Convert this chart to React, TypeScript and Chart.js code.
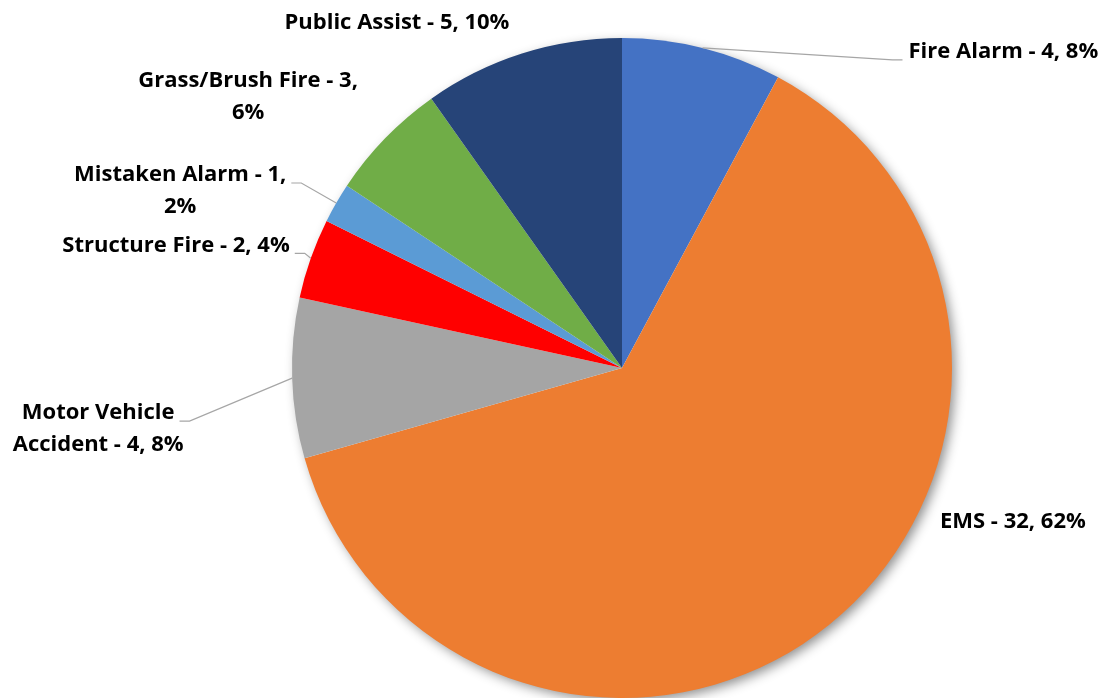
import React, { useEffect, useRef } from "react";
import { Chart, registerables } from "chart.js";

Chart.register(...registerables);

const categories = [
  "Fire Alarm",
  "EMS",
  "Motor Vehicle Accident",
  "Structure Fire",
  "Mistaken Alarm",
  "Grass/Brush Fire",
  "Public Assist",
];
const counts = [4, 32, 4, 2, 1, 3, 5];
const percentLabels = [8, 62, 8, 4, 2, 6, 10];
const colors = ["#4472C4", "#ED7D31", "#A5A5A5", "#FF0000", "#5B9BD5", "#70AD47", "#264478"];

// label layout: offset of the label anchor from the slice's outer mid point
const labelLayout = [
  { dx: 206, dy: 4, align: "left", breakAfter: 0, leader: "right" },
  { dx: 184, dy: -103, align: "center", breakAfter: 0, leader: "" },
  { dx: -194, dy: 35, align: "center", breakAfter: 2, leader: "left" },
  { dx: -21, dy: -13, align: "right", breakAfter: 0, leader: "left" },
  { dx: -156, dy: -28, align: "center", breakAfter: 4, leader: "left" },
  { dx: -137, dy: -58, align: "center", breakAfter: 4, leader: "" },
  { dx: -125, dy: -31, align: "center", breakAfter: 0, leader: "" },
];

const FONT = "bold 22px 'Open Sans'";
const LINE_H = 32;

const shadowPlugin = {
  id: "pieShadow",
  beforeDatasetsDraw(chart: any) {
    const meta = chart.getDatasetMeta(0);
    const arc = meta.data[0];
    if (!arc) return;
    const { x, y, outerRadius } = arc.getProps(["x", "y", "outerRadius"], true);
    const ctx = chart.ctx;
    ctx.save();
    ctx.shadowColor = "rgba(0,0,0,0.45)";
    ctx.shadowBlur = 12;
    ctx.shadowOffsetX = 4;
    ctx.shadowOffsetY = 4;
    ctx.fillStyle = "#ffffff";
    ctx.beginPath();
    ctx.arc(x, y, outerRadius - 1, 0, Math.PI * 2);
    ctx.fill();
    ctx.restore();
  },
};

const labelPlugin = {
  id: "sliceLabels",
  afterDatasetsDraw(chart: any) {
    const ctx = chart.ctx;
    const meta = chart.getDatasetMeta(0);
    ctx.save();
    ctx.font = FONT;
    ctx.textBaseline = "middle";
    meta.data.forEach((arc: any, i: number) => {
      const { x, y, startAngle, endAngle, outerRadius } = arc.getProps(
        ["x", "y", "startAngle", "endAngle", "outerRadius"],
        true
      );
      const mid = (startAngle + endAngle) / 2;
      const px = x + Math.cos(mid) * outerRadius;
      const py = y + Math.sin(mid) * outerRadius;
      const L = labelLayout[i];
      const text = `${categories[i]} - ${counts[i]}, ${percentLabels[i]}%`;
      const words = text.split(" ");
      const lines =
        L.breakAfter > 0
          ? [words.slice(0, L.breakAfter).join(" "), words.slice(L.breakAfter).join(" ")]
          : [text];
      const ax = px + L.dx;
      const ay = py + L.dy;
      ctx.fillStyle = "#000000";
      ctx.textAlign = L.align as CanvasTextAlign;
      lines.forEach((ln, k) => ctx.fillText(ln, ax, ay + k * LINE_H));
      if (L.leader) {
        const w = ctx.measureText(lines[0]).width;
        let edge: number;
        if (L.align === "left") edge = ax;
        else if (L.align === "right") edge = ax - w;
        else edge = L.leader === "left" ? ax + w / 2 : ax - w / 2;
        const ly = ay + 8;
        ctx.strokeStyle = "#A6A6A6";
        ctx.lineWidth = 1.2;
        ctx.beginPath();
        if (L.leader === "left") {
          const sx = (L.align === "right" ? ax : edge) + 5;
          ctx.moveTo(sx, ly);
          ctx.lineTo(sx + 10, ly);
        } else {
          const sx = edge - 6;
          ctx.moveTo(sx, ly);
          ctx.lineTo(sx - 10, ly);
        }
        ctx.lineTo(px, py);
        ctx.stroke();
      }
    });
    ctx.restore();
  },
};

export default function App() {
  const ref = useRef<HTMLCanvasElement | null>(null);
  useEffect(() => {
    if (!ref.current) return;
    const chart = new Chart(ref.current, {
      type: "pie",
      data: {
        labels: categories,
        datasets: [
          {
            data: counts,
            backgroundColor: colors,
            borderWidth: 0,
          },
        ],
      },
      options: {
        responsive: true,
        maintainAspectRatio: false,
        animation: false,
        layout: { padding: { left: 292, right: 153, top: 38, bottom: 0 } },
        plugins: {
          legend: { display: false },
          tooltip: { enabled: false },
        },
      },
      plugins: [shadowPlugin, labelPlugin],
    });
    return () => chart.destroy();
  }, []);
  return (
    <div style={{ position: "absolute", left: 0, top: 0, width: 1105, height: 698, background: "#fff" }}>
      <canvas ref={ref} />
    </div>
  );
}
